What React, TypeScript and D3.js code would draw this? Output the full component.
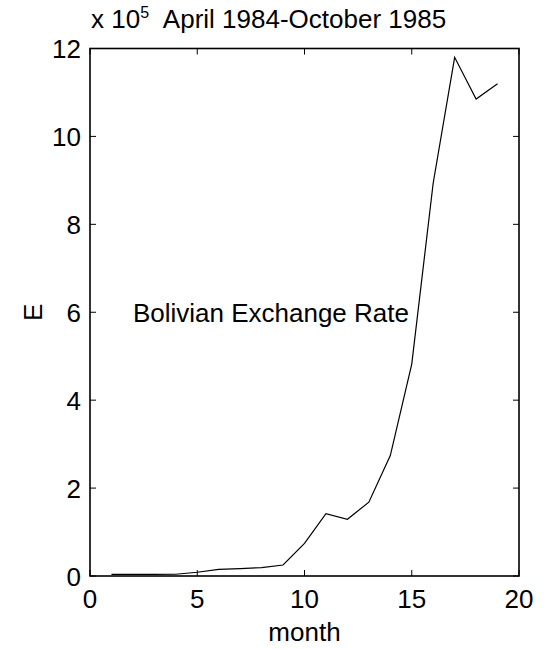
import React from "react";
import * as d3 from "d3";

const months = [1, 2, 3, 4, 5, 6, 7, 8, 9, 10, 11, 12, 13, 14, 15, 16, 17, 18, 19];
const rate = [0.035, 0.035, 0.035, 0.04, 0.085, 0.15, 0.17, 0.19, 0.25, 0.74, 1.42, 1.29, 1.68, 2.74, 4.82, 8.94, 11.8, 10.85, 11.2];
const xTicks = [0, 5, 10, 15, 20];
const yTicks = [0, 2, 4, 6, 8, 10, 12];
const titleText = "April 1984-October 1985";
const xLabel = "month";
const yLabel = "E";
const annotation = "Bolivian Exchange Rate";

export default function App() {
  const W = 548, H = 649;
  const left = 90, right = 519, top = 48.5, bottom = 576;
  const x = d3.scaleLinear().domain([0, 20]).range([left, right]);
  const y = d3.scaleLinear().domain([0, 12]).range([bottom, top]);
  const line = d3.line<number>().x((_, i) => x(months[i])).y((d) => y(d));
  const fs = 26;
  const font = "'Liberation Sans', Arial, Helvetica, sans-serif";
  const tl = 6;
  return (
    <svg width={W} height={H} style={{ position: "absolute", left: 0, top: 0, background: "#fff" }} fontFamily={font}>
      <rect x={0} y={0} width={W} height={H} fill="#fff" />
      <path d={line(rate) || ""} fill="none" stroke="#000" strokeWidth={1.2} />
      {xTicks.map((t) => (
        <g key={"x" + t}>
          <line x1={x(t)} x2={x(t)} y1={bottom} y2={bottom - tl} stroke="#000" strokeWidth={1} />
          <line x1={x(t)} x2={x(t)} y1={top} y2={top + tl} stroke="#000" strokeWidth={1} />
          <text x={x(t)} y={608} fontSize={fs} textAnchor="middle">{t}</text>
        </g>
      ))}
      {yTicks.map((t) => (
        <g key={"y" + t}>
          <line x1={left} x2={left + tl} y1={y(t)} y2={y(t)} stroke="#000" strokeWidth={1} />
          <line x1={right} x2={right - tl} y1={y(t)} y2={y(t)} stroke="#000" strokeWidth={1} />
          <text x={81} y={y(t) + fs * 0.37} fontSize={fs} textAnchor="end">{t}</text>
        </g>
      ))}
      <rect x={left} y={top} width={right - left} height={bottom - top} fill="none" stroke="#000" strokeWidth={1.6} />
      <text x={(left + right) / 2} y={641} fontSize={fs} textAnchor="middle">{xLabel}</text>
      <text transform={`translate(42,${(top + bottom) / 2}) rotate(-90)`} fontSize={fs} textAnchor="middle">{yLabel}</text>
      <text x={(left + right) / 2} y={28} fontSize={fs} textAnchor="middle">{titleText}</text>
      <text x={91} y={28} fontSize={fs}>
        x 10<tspan dy={-10} fontSize={16}>5</tspan>
      </text>
      <text x={x(2)} y={y(6) + fs * 0.36} fontSize={fs}>{annotation}</text>
    </svg>
  );
}
